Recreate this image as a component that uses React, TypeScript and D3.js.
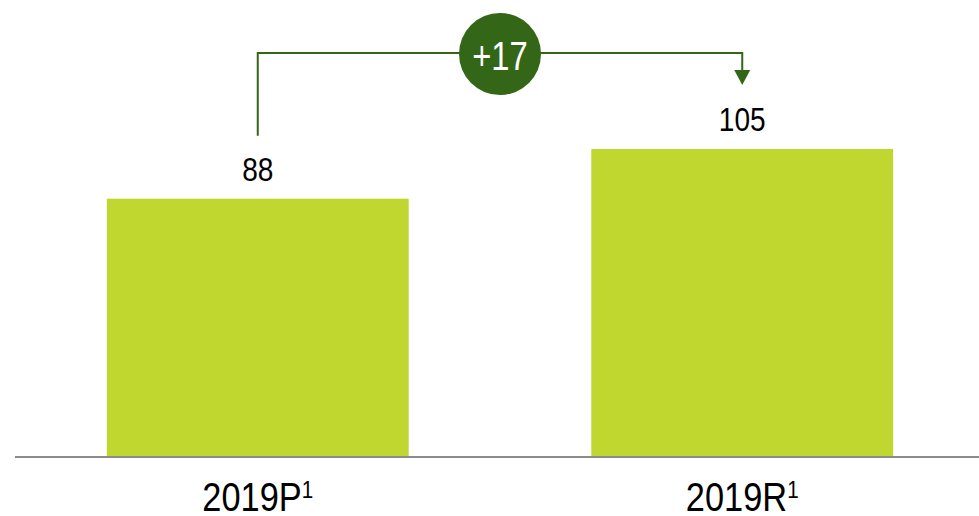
import React from "react";
import * as d3 from "d3";

const categories = ["2019P", "2019R"];
const values = [88, 105];
const footnotes = ["1", "1"];
const deltaLabel = "+17";

const W = 979;
const H = 516;
const FONT = "'Liberation Sans', Arial, sans-serif";
const BAR = "#c0d730";
const DARK = "#336616";

export default function App() {
  const x = d3.scaleBand<string>().domain(categories).range([16, 984]).paddingInner(0.377).paddingOuter(0.1875);
  const y = d3.scaleLinear().domain([0, 105]).range([456, 149]);
  const cx = (c: string) => (x(c) as number) + x.bandwidth() / 2;

  const x1 = cx(categories[0]);
  const x2 = cx(categories[1]);
  const topY = 53;
  const startY = y(values[0]) - 63;
  const arrowTip = y(values[1]) - 64;
  const midX = (x1 + x2) / 2;

  return (
    <svg width={W} height={H} style={{ position: "absolute", left: 0, top: 0, display: "block" }} fontFamily={FONT}>
      {categories.map((c, i) => (
        <g key={c}>
          <rect x={x(c)} y={y(values[i])} width={x.bandwidth()} height={y(0) - y(values[i])} fill={BAR} />
          <text
            transform={`translate(${cx(c)},${y(values[i]) - 18}) scale(0.85,1)`}
            textAnchor="middle"
            fontSize={33}
            fill="#000"
          >
            {values[i]}
          </text>
          <text transform={`translate(${cx(c)},511) scale(0.86,1)`} textAnchor="middle" fontSize={40} fill="#000">
            {c}
            <tspan fontSize={24} dy={-13}>{footnotes[i]}</tspan>
          </text>
        </g>
      ))}
      <line x1={15} x2={W} y1={457} y2={457} stroke="#8c8c8c" strokeWidth={2} />
      <path
        d={`M${x1},${startY} V${topY} H${x2} V${arrowTip - 14}`}
        fill="none"
        stroke={DARK}
        strokeWidth={2}
      />
      <path d={`M${x2 - 8},${arrowTip - 15} L${x2 + 8},${arrowTip - 15} L${x2},${arrowTip} Z`} fill={DARK} />
      <circle cx={midX} cy={topY + 1} r={41} fill={DARK} />
      <text transform={`translate(${midX},${topY + 17}) scale(0.82,1)`} textAnchor="middle" fontSize={40} fill="#fff">
        {deltaLabel}
      </text>
    </svg>
  );
}
